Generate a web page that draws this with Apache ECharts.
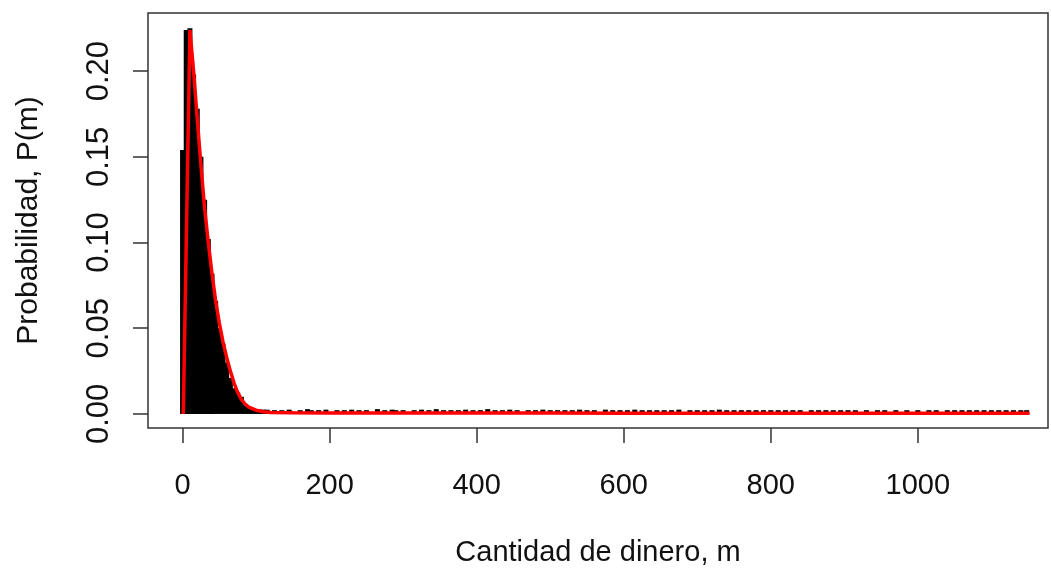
<!DOCTYPE html>
<html>
<head>
<meta charset="utf-8">
<script src="https://cdn.jsdelivr.net/npm/echarts@6/dist/echarts.min.js"></script>
<style>
html,body{margin:0;padding:0;background:#fff;}
#c{width:1051px;height:568px;}
</style>
</head>
<body>
<div id="c"></div>
<script>
// Black histogram-like bars (money m, probability)
var mainM = [0, 5, 10, 15, 20, 25, 30, 35, 40, 45, 50, 55, 60, 65, 70, 75, 80, 85, 90, 95, 100, 105, 110];
var mainP = [0.154, 0.224, 0.225, 0.198, 0.178, 0.150, 0.125, 0.102, 0.082, 0.066, 0.050, 0.041, 0.030, 0.021, 0.015, 0.0125, 0.010, 0.005, 0.0035, 0.0028, 0.0025, 0.0025, 0.0025];
// Sparse tail bars
var tailM = [115,125,135,145,160,170,175,185,195,210,220,230,240,250,265,275,285,290,300,315,325,335,345,355,365,375,385,395,405,415,425,435,445,455,470,480,490,500,510,520,530,540,550,560,575,585,595,605,615,625,635,645,655,665,675,690,700,710,720,730,740,750,760,770,780,790,800,810,820,830,840,855,865,875,885,895,905,915,930,945,955,970,985,1000,1015,1025,1040,1050,1060,1070,1080,1090,1100,1110,1120,1130,1140,1148];
var tailP = [0.0025,0.0022,0.0022,0.0025,0.0022,0.0028,0.0022,0.0022,0.0025,0.0022,0.0022,0.0025,0.0022,0.0022,0.0028,0.0022,0.0025,0.0022,0.0022,0.0022,0.0025,0.0022,0.0028,0.0022,0.0022,0.0022,0.0025,0.0022,0.0022,0.0028,0.0022,0.0022,0.0025,0.0022,0.0022,0.0022,0.0025,0.0022,0.0022,0.0022,0.0022,0.0025,0.0022,0.0022,0.0025,0.0022,0.0022,0.0022,0.0025,0.0022,0.0022,0.0022,0.0022,0.0022,0.0025,0.0022,0.0022,0.0022,0.0022,0.0025,0.0022,0.0022,0.0022,0.0022,0.0022,0.0022,0.0022,0.0022,0.0022,0.0022,0.0022,0.0022,0.0022,0.0022,0.0022,0.0022,0.0022,0.0022,0.0022,0.0022,0.0022,0.0022,0.0022,0.0022,0.0022,0.0022,0.0022,0.0022,0.0022,0.0022,0.0022,0.0022,0.0022,0.0022,0.0022,0.0022,0.0022,0.0022];
// Red fitted curve
var redM = [1, 10, 15, 20, 25, 30, 35, 40, 45, 50, 55, 60, 65, 70, 75, 80, 85, 90, 100, 110, 120, 150, 200, 300, 400, 500, 600, 700, 800, 900, 1000, 1100, 1152];
var redP = [0, 0.224, 0.200, 0.172, 0.145, 0.120, 0.100, 0.082, 0.066, 0.053, 0.042, 0.033, 0.025, 0.018, 0.0125, 0.0085, 0.0058, 0.004, 0.0022, 0.0013, 0.0009, 0.0007, 0.0006, 0.0005, 0.0005, 0.0005, 0.0004, 0.0004, 0.0004, 0.0004, 0.0004, 0.0004, 0.0004];
// Tick labels
var xTicks = [0, 200, 400, 600, 800, 1000];
var yTicks = [0, 0.05, 0.10, 0.15, 0.20];

function zip(a, b) { return a.map(function (v, i) { return [v, b[i]]; }); }

var font = "'Liberation Sans', Arial, Helvetica, sans-serif";
var chart = echarts.init(document.getElementById('c'), null, {renderer: 'canvas'});
chart.setOption({
  animation: false,
  backgroundColor: '#fff',
  grid: {left: 148, right: 3, top: 13, bottom: 140, show: true, borderColor: '#333', borderWidth: 1.5, backgroundColor: 'transparent', outerBoundsMode: 'none', containLabel: false},
  xAxis: {
    type: 'value', min: -47, max: 1177,
    axisLine: {show: false, onZero: false},
    splitLine: {show: false},
    axisTick: {show: true, customValues: xTicks, length: 15, lineStyle: {color: '#333', width: 1.5}},
    axisLabel: {customValues: xTicks, fontSize: 29, margin: 43, color: '#111', fontFamily: font,
      formatter: function (v) { return String(v); }},
    name: 'Cantidad de dinero, m', nameLocation: 'middle', nameGap: 110,
    nameTextStyle: {fontSize: 29, color: '#111', fontFamily: font}
  },
  yAxis: {
    type: 'value', min: -0.0082, max: 0.2339,
    axisLine: {show: false, onZero: false},
    splitLine: {show: false},
    axisTick: {show: true, customValues: yTicks, length: 15, lineStyle: {color: '#333', width: 1.5}},
    axisLabel: {customValues: yTicks, rotate: 90, fontSize: 31, margin: 33, color: '#111', fontFamily: font,
      formatter: function (v) { return v.toFixed(2); }},
    name: 'Probabilidad, P(m)', nameLocation: 'middle', nameGap: 104,
    nameTextStyle: {fontSize: 30, color: '#111', fontFamily: font}
  },
  series: [
    {type: 'bar', data: zip(mainM, mainP).concat(zip(tailM, tailP)), barWidth: 5, itemStyle: {color: '#000'}, z: 2},
    {type: 'line', data: zip(redM, redP), showSymbol: false, symbol: 'none', lineStyle: {color: '#ff0000', width: 3.5}, z: 3}
  ]
});
</script>
</body>
</html>
